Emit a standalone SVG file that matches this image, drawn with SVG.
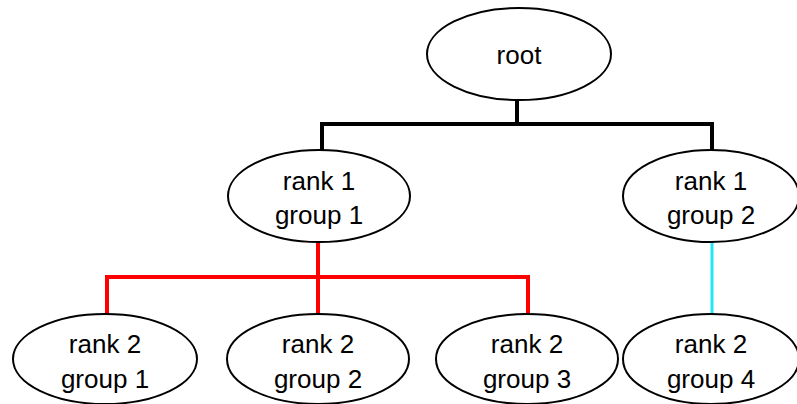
<svg xmlns="http://www.w3.org/2000/svg" width="797" height="404" viewBox="0 0 797 404">
  <style>
    .node ellipse { fill: #ffffff; stroke: #000000; stroke-width: 2; }
    .node text { font-family: "Liberation Sans", Arial, sans-serif; font-size: 26px; fill: #000000; text-anchor: middle; }
    .edge { fill: none; stroke-linecap: butt; stroke-linejoin: miter; }
    .black { stroke: #000000; stroke-width: 4; }
    .red { stroke: #ff0000; stroke-width: 4; }
    .cyan { stroke: #22e6f2; stroke-width: 3; }
  </style>
  <rect width="797" height="404" fill="#ffffff"/>

  <!-- connectors -->
  <g id="connectors">
    <path class="edge black" d="M517 100 V124 M322 124 H712 M322 122 V150 M712 122 V150"/>
    <path class="edge red" d="M318 242 V314 M107 314 V277 H528 V314"/>
    <path class="edge cyan" d="M712 242 V314"/>
  </g>

  <!-- nodes -->
  <g id="root" class="node">
    <ellipse cx="519" cy="54" rx="92" ry="46"/>
    <text x="519" y="64">root</text>
  </g>
  <g id="rank1-group1" class="node">
    <ellipse cx="319" cy="196" rx="91" ry="46"/>
    <text x="319" y="190">rank 1</text>
    <text x="319" y="224">group 1</text>
  </g>
  <g id="rank1-group2" class="node">
    <ellipse cx="711" cy="196" rx="88" ry="46"/>
    <text x="711" y="190">rank 1</text>
    <text x="711" y="224">group 2</text>
  </g>
  <g id="rank2-group1" class="node">
    <ellipse cx="105" cy="359" rx="92" ry="45"/>
    <text x="105" y="353">rank 2</text>
    <text x="105" y="388">group 1</text>
  </g>
  <g id="rank2-group2" class="node">
    <ellipse cx="318" cy="359" rx="91" ry="45"/>
    <text x="318" y="353">rank 2</text>
    <text x="318" y="388">group 2</text>
  </g>
  <g id="rank2-group3" class="node">
    <ellipse cx="527" cy="359" rx="91" ry="45"/>
    <text x="527" y="353">rank 2</text>
    <text x="527" y="388">group 3</text>
  </g>
  <g id="rank2-group4" class="node">
    <ellipse cx="711" cy="359" rx="88" ry="45"/>
    <text x="711" y="353">rank 2</text>
    <text x="711" y="388">group 4</text>
  </g>
</svg>
